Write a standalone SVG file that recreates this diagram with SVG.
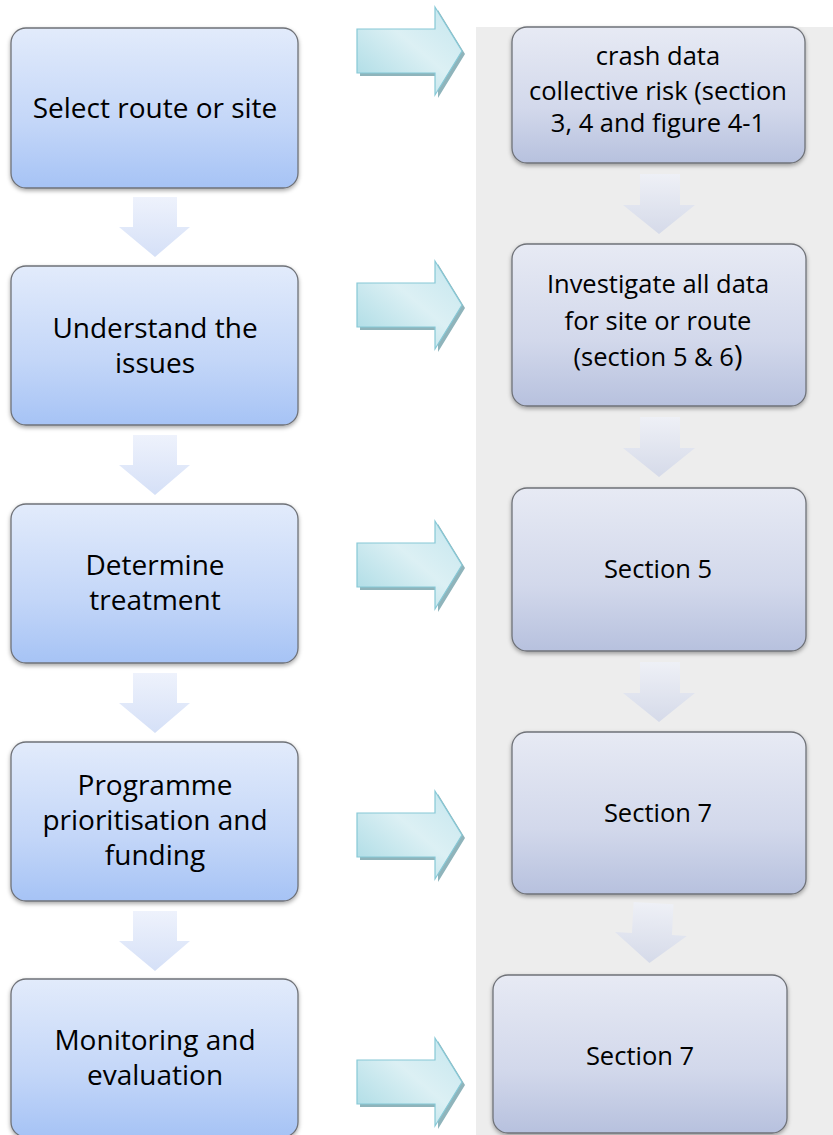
<svg xmlns="http://www.w3.org/2000/svg" width="833" height="1135" viewBox="0 0 833 1135">
<defs>
<linearGradient id="gLeft" x1="0" y1="0" x2="0" y2="1">
<stop offset="0" stop-color="#e2ebfb"/>
<stop offset="0.6" stop-color="#c3d6f8"/>
<stop offset="1" stop-color="#a6c3f5"/>
</linearGradient>
<linearGradient id="gRight" x1="0" y1="0" x2="0" y2="1">
<stop offset="0" stop-color="#e7eaf4"/>
<stop offset="0.6" stop-color="#d2d8eb"/>
<stop offset="1" stop-color="#b7c1de"/>
</linearGradient>
<linearGradient id="gDown" x1="0" y1="0" x2="0" y2="1">
<stop offset="0" stop-color="#eef2fc"/>
<stop offset="1" stop-color="#d5e0f7"/>
</linearGradient>
<linearGradient id="gDownR" x1="0" y1="0" x2="0" y2="1">
<stop offset="0" stop-color="#eef0f6"/>
<stop offset="1" stop-color="#d5dae9"/>
</linearGradient>
<linearGradient id="gTeal" x1="0" y1="1" x2="1" y2="0">
<stop offset="0" stop-color="#a6d9e3"/>
<stop offset="0.55" stop-color="#dcf0f4"/>
<stop offset="1" stop-color="#c4e6ee"/>
</linearGradient>
<filter id="sh" x="-5%" y="-5%" width="110%" height="115%">
<feDropShadow dx="0" dy="2" stdDeviation="2" flood-color="#000" flood-opacity="0.35"/>
</filter>
<path id="teal" d="M0,22 L78,22 L78,0 L105,44 L78,88 L78,66 L0,66 Z"/>
<path id="down" d="M14,0 L58,0 L58,30 L71,30 L36,60 L0,30 L14,30 Z"/>
<path id="downR" d="M17,0 L57,0 L57,31 L72,31 L36,60 L0,31 L17,31 Z"/>
</defs>
<style>
.bl{fill:url(#gLeft);stroke:#6f7278;stroke-width:1.3;filter:url(#sh)}
.br{fill:url(#gRight);stroke:#6f7278;stroke-width:1.3;filter:url(#sh)}
.tl{font-family:"Open Sans","Liberation Sans",sans-serif;font-size:28px;fill:#000;text-anchor:middle}
.tr{font-family:"Open Sans","Liberation Sans",sans-serif;font-size:25.5px;fill:#000;text-anchor:middle}
.ta{fill:url(#gTeal);stroke:#86c8d6;stroke-width:1.2}
.tas{fill:#8fb4bb}
.dl{fill:url(#gDown)}
.dr{fill:url(#gDownR)}
</style>
<rect x="476" y="27" width="357" height="1108" fill="#ededed"/>

<g id="connectors">
<g transform="translate(119,197)"><use href="#down" class="dl"/></g>
<g transform="translate(119,435)"><use href="#down" class="dl"/></g>
<g transform="translate(119,673)"><use href="#down" class="dl"/></g>
<g transform="translate(119,911)"><use href="#down" class="dl"/></g>
<g transform="translate(623,174)"><use href="#downR" class="dr"/></g>
<g transform="translate(623,417)"><use href="#downR" class="dr"/></g>
<g transform="translate(623,662)"><use href="#downR" class="dr"/></g>
<g transform="translate(615,903) rotate(3 36 30)"><use href="#downR" class="dr"/></g>
<g transform="translate(357,7)"><use href="#teal" class="tas" x="3" y="3"/><use href="#teal" class="ta"/></g>
<g transform="translate(357,261)"><use href="#teal" class="tas" x="3" y="3"/><use href="#teal" class="ta"/></g>
<g transform="translate(357,521)"><use href="#teal" class="tas" x="3" y="3"/><use href="#teal" class="ta"/></g>
<g transform="translate(357,791)"><use href="#teal" class="tas" x="3" y="3"/><use href="#teal" class="ta"/></g>
<g transform="translate(357,1038)"><use href="#teal" class="tas" x="3" y="3"/><use href="#teal" class="ta"/></g>
</g>

<g id="n-select">
<rect class="bl" x="11" y="28" width="287" height="160" rx="15"/>
<text class="tl" x="155" y="118">Select route or site</text>
</g>
<g id="n-understand">
<rect class="bl" x="11" y="266" width="287" height="159" rx="15"/>
<text class="tl" x="155" y="338">Understand the</text>
<text class="tl" x="155" y="373">issues</text>
</g>
<g id="n-determine">
<rect class="bl" x="11" y="504" width="287" height="159" rx="15"/>
<text class="tl" x="155" y="575">Determine</text>
<text class="tl" x="155" y="610">treatment</text>
</g>
<g id="n-programme">
<rect class="bl" x="11" y="742" width="287" height="159" rx="15"/>
<text class="tl" x="155" y="795">Programme</text>
<text class="tl" x="155" y="830">prioritisation and</text>
<text class="tl" x="155" y="865">funding</text>
</g>
<g id="n-monitoring">
<rect class="bl" x="11" y="979" width="287" height="158" rx="15"/>
<text class="tl" x="155" y="1050">Monitoring and</text>
<text class="tl" x="155" y="1085">evaluation</text>
</g>

<g id="n-crash">
<rect class="br" x="512" y="27" width="293" height="136" rx="15"/>
<text class="tr" x="658" y="65">crash data</text>
<text class="tr" x="658" y="100">collective risk (section</text>
<text class="tr" x="658" y="132">3, 4 and figure 4-1</text>
</g>
<g id="n-investigate">
<rect class="br" x="512" y="244" width="294" height="162" rx="15"/>
<text class="tr" x="658" y="293">Investigate all data</text>
<text class="tr" x="658" y="330">for site or route</text>
<text class="tr" x="658" y="366">(section 5 &amp; 6<tspan font-size="29px">)</tspan></text>
</g>
<g id="n-section5">
<rect class="br" x="512" y="488" width="294" height="163" rx="15"/>
<text class="tr" x="658" y="578">Section 5</text>
</g>
<g id="n-section7a">
<rect class="br" x="512" y="732" width="294" height="162" rx="15"/>
<text class="tr" x="658" y="822">Section 7</text>
</g>
<g id="n-section7b">
<rect class="br" x="493" y="975" width="294" height="158" rx="15"/>
<text class="tr" x="640" y="1065">Section 7</text>
</g>
</svg>
